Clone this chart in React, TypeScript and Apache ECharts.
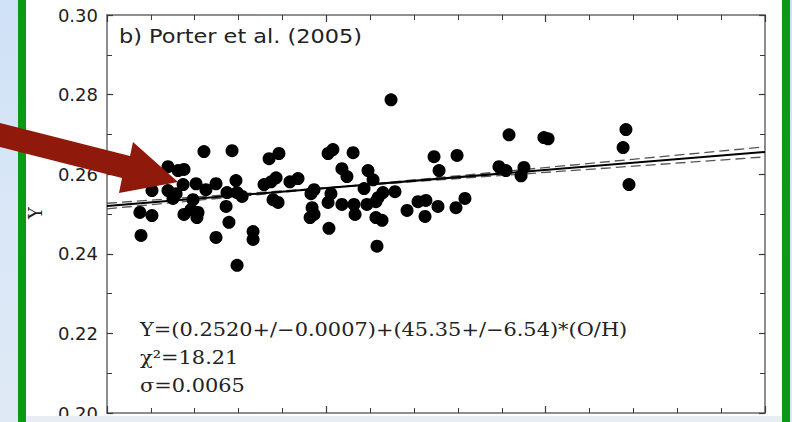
import React, { useEffect, useRef } from "react";
import * as echarts from "echarts";

// O/H in units of 1e-4
const ohE4 = [
  0.150, 0.155, 0.205, 0.205, 0.278, 0.278, 0.301, 0.315, 0.324, 0.347,
  0.351, 0.351, 0.383, 0.392, 0.406, 0.415, 0.410, 0.442, 0.451, 0.497,
  0.497, 0.543, 0.547, 0.556, 0.570, 0.588, 0.593, 0.616, 0.593, 0.666,
  0.666, 0.716, 0.739, 0.748, 0.771, 0.784, 0.757, 0.780, 0.834, 0.871,
  0.930, 0.944, 0.935, 0.944, 0.926, 1.008, 1.030, 1.008, 1.021, 1.012,
  1.071, 1.094, 1.071, 1.122, 1.126, 1.131, 1.172, 1.185, 1.190, 1.213,
  1.226, 1.236, 1.226, 1.254, 1.258, 1.313, 1.231, 1.295, 1.368, 1.418,
  1.454, 1.450, 1.491, 1.514, 1.509, 1.596, 1.591, 1.632, 1.787, 1.819,
  1.833, 1.888, 1.901, 1.992, 2.011, 2.353, 2.366, 2.380,
];
const yValues = [
  0.2504, 0.2446, 0.2559, 0.2496, 0.2619, 0.2559, 0.2539, 0.2551, 0.2609, 0.2574,
  0.2612, 0.2499, 0.2511, 0.2536, 0.2576, 0.2504, 0.2491, 0.2657, 0.2561, 0.2576,
  0.2441, 0.2519, 0.2554, 0.2479, 0.2659, 0.2584, 0.2554, 0.2544, 0.2371, 0.2456,
  0.2436, 0.2574, 0.2639, 0.2581, 0.2591, 0.2652, 0.2536, 0.2529, 0.2581, 0.2589,
  0.2551, 0.2561, 0.2516, 0.2499, 0.2491, 0.2652, 0.2662, 0.2529, 0.2551, 0.2464,
  0.2614, 0.2594, 0.2524, 0.2654, 0.2524, 0.2499, 0.2564, 0.2524, 0.2609, 0.2586,
  0.2531, 0.2541, 0.2491, 0.2484, 0.2554, 0.2556, 0.2419, 0.2787, 0.2509, 0.2531,
  0.2534, 0.2494, 0.2644, 0.2609, 0.2519, 0.2647, 0.2516, 0.2539, 0.2619, 0.2609,
  0.2699, 0.2596, 0.2617, 0.2692, 0.2689, 0.2667, 0.2712, 0.2574,
];
// Fit: Y = a + b * (O/H)
const fitA = 0.252;
const fitDA = 0.0007;
const fitB = 45.35;
const fitDB = 6.54;
const xRange = [0, 0.0003];
const yRange = [0.2, 0.3];
const yTickLabels = ["0.20", "0.22", "0.24", "0.26", "0.28", "0.30"];

const titleText = "b) Porter et al. (2005)";
const eqLines = [
  "Y=(0.2520+/\u22120.0007)+(45.35+/\u22126.54)*(O/H)",
  "\u03c7\u00b2=18.21",
  "\u03c3=0.0065",
];

export default function App() {
  const ref = useRef<HTMLDivElement>(null);
  useEffect(() => {
    const chart = echarts.init(ref.current!, null, { renderer: "svg" });
    const fitLine = (a: number, b: number) =>
      xRange.map((x) => [x, a + b * x]);
    const axisColor = "#6a6a6a";
    const tickColor = "#3a3a3a";
    const xAxisBase = {
      type: "value",
      min: xRange[0],
      max: xRange[1],
      interval: 0.0001,
      axisLine: { show: true, onZero: false, lineStyle: { color: axisColor, width: 1.5 } },
      axisTick: { show: true, inside: true, length: 7, lineStyle: { color: tickColor, width: 1.2 } },
      minorTick: { show: true, splitNumber: 5, length: 5, lineStyle: { color: tickColor, width: 1 } },
      axisLabel: { show: false },
      splitLine: { show: false },
      minorSplitLine: { show: false },
    };
    const yAxisBase = {
      type: "value",
      min: yRange[0],
      max: yRange[1],
      interval: 0.02,
      axisLine: { show: true, onZero: false, lineStyle: { color: axisColor, width: 1.5 } },
      axisTick: { show: true, inside: true, length: 6, lineStyle: { color: tickColor, width: 1.2 } },
      minorTick: { show: true, splitNumber: 2, length: 5, lineStyle: { color: tickColor, width: 1 } },
      splitLine: { show: false },
      minorSplitLine: { show: false },
    };
    chart.setOption({
      animation: false,
      backgroundColor: "#ffffff",
      grid: { left: 107, right: 27, top: 15, bottom: 8, containLabel: false },
      xAxis: [
        { ...xAxisBase, position: "bottom" },
        { ...xAxisBase, position: "top" },
      ],
      yAxis: [
        {
          ...yAxisBase,
          position: "left",
          axisLabel: {
            show: true,
            margin: 9,
            fontFamily: "DejaVu Sans",
            fontSize: 18,
            color: "#1e1e1e",
            formatter: (v: number) => {
              const i = Math.round((v - yRange[0]) / 0.02);
              return yTickLabels[i] ?? v.toFixed(2);
            },
          },
        },
        { ...yAxisBase, position: "right", axisLabel: { show: false } },
      ],
      series: [
        {
          type: "line",
          data: fitLine(fitA + fitDA, fitB - fitDB),
          symbol: "none",
          lineStyle: { color: "#555", width: 1.3, type: [10, 5] },
          z: 3,
        },
        {
          type: "line",
          data: fitLine(fitA - fitDA, fitB + fitDB),
          symbol: "none",
          lineStyle: { color: "#555", width: 1.3, type: [10, 5] },
          z: 3,
        },
        {
          type: "scatter",
          data: ohE4.map((x, i) => [x * 1e-4, yValues[i]]),
          symbol: "circle",
          symbolSize: 13,
          itemStyle: { color: "#000", opacity: 1 },
          z: 4,
        },
        {
          type: "line",
          data: fitLine(fitA, fitB),
          symbol: "none",
          lineStyle: { color: "#000", width: 2 },
          z: 5,
        },
      ],
      graphic: [
        {
          type: "rect",
          z: -20,
          shape: { x: 0, y: 0, width: 792, height: 422 },
          style: {
            fill: new echarts.graphic.LinearGradient(0, 0, 0, 1, [
              { offset: 0, color: "#cfe1f6" },
              { offset: 0.5, color: "#d9e7f7" },
              { offset: 1, color: "#dfe9f5" },
            ]),
          },
        },
        { type: "rect", z: -19, shape: { x: 26, y: 0, width: 756, height: 416 }, style: { fill: "#ffffff" } },
        { type: "rect", z: -19, shape: { x: 18, y: 0, width: 8, height: 422 }, style: { fill: "#0c9a16" } },
        { type: "rect", z: -19, shape: { x: 782, y: 0, width: 8, height: 422 }, style: { fill: "#0c9a16" } },
        { type: "rect", z: 100, shape: { x: 26, y: 416, width: 756, height: 6 }, style: { fill: "#e8edf3" } },
        {
          type: "polygon",
          z: 100,
          shape: {
            points: [
              [0, 123], [130, 156], [133, 142], [178, 182], [119, 193], [122, 178], [0, 147],
            ],
          },
          style: { fill: "#8f1a0b" },
        },
        {
          type: "text",
          z: 100,
          x: 119,
          y: 37,
          scaleX: 1.18,
          style: {
            text: titleText,
            fontFamily: "DejaVu Sans",
            fontSize: 19,
            fill: "#222",
            textAlign: "left",
            textVerticalAlign: "middle",
            align: "left",
            verticalAlign: "middle",
          },
        },
        {
          type: "text",
          z: 100,
          x: 35,
          y: 213,
          rotation: Math.PI / 2,
          style: {
            text: "Y",
            fontFamily: "DejaVu Serif",
            fontSize: 18,
            fill: "#222",
            textAlign: "center",
            textVerticalAlign: "middle",
            align: "center",
            verticalAlign: "middle",
          },
        },
        ...eqLines.map((t, i) => ({
          type: "text",
          z: 100,
          x: 140,
          y: 329 + i * 28,
          scaleX: 1.1,
          style: {
            text: t,
            fontFamily: "DejaVu Serif",
            fontSize: 19,
            fill: "#222",
            textAlign: "left",
            textVerticalAlign: "middle",
            align: "left",
            verticalAlign: "middle",
          },
        })),
      ],
    });
    return () => chart.dispose();
  }, []);
  return (
    <div
      ref={ref}
      style={{ position: "absolute", left: 0, top: 0, width: 792, height: 422 }}
    />
  );
}
